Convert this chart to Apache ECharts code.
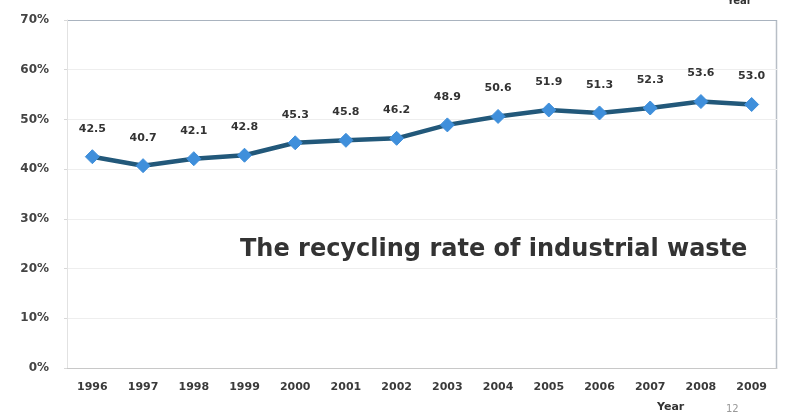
<!DOCTYPE html>
<html>
<head>
<meta charset="utf-8">
<script src="https://cdn.jsdelivr.net/npm/echarts@6/dist/echarts.min.js"></script>
<style>
  html, body { margin: 0; padding: 0; background: #fff; }
  #chart { width: 785px; height: 417px; }
</style>
</head>
<body>
<div id="chart"></div>
<script>
// Recycling rate of industrial waste, 1996–2009 (percent)
const years = ['1996', '1997', '1998', '1999', '2000', '2001', '2002', '2003', '2004', '2005', '2006', '2007', '2008', '2009'];
const recyclingRate = [42.5, 40.7, 42.1, 42.8, 45.3, 45.8, 46.2, 48.9, 50.6, 51.9, 51.3, 52.3, 53.6, 53.0];
const yTicks = [0, 10, 20, 30, 40, 50, 60, 70];
const chartTitle = 'The recycling rate of industrial waste';
const axisName = 'Year';
const pageNumber = '12';

const labelFont = '"DejaVu Sans", sans-serif';

const chart = echarts.init(document.getElementById('chart'));

chart.setOption({
  animation: false,
  backgroundColor: '#ffffff',
  grid: { left: 67, right: 8, top: 20, bottom: 49 },
  xAxis: {
    type: 'category',
    data: years,
    boundaryGap: true,
    axisLine: { show: true, lineStyle: { color: '#c8c8c8', width: 1 } },
    axisTick: { show: false },
    axisLabel: {
      color: '#3a3a3a',
      fontFamily: labelFont,
      fontWeight: 'bold',
      fontSize: 11,
      margin: 14
    },
    splitLine: { show: false }
  },
  yAxis: {
    type: 'value',
    min: yTicks[0],
    max: yTicks[yTicks.length - 1],
    interval: 10,
    axisLine: { show: true, lineStyle: { color: '#e2e2e2', width: 1 } },
    axisTick: { show: true, length: 3, lineStyle: { color: '#d8d8d8' } },
    axisLabel: {
      color: '#444',
      fontFamily: labelFont,
      fontWeight: 'bold',
      fontSize: 12,
      margin: 18,
      formatter: v => v + '%'
    },
    splitLine: {
      show: true,
      lineStyle: {
        color: ['#eeeeee', '#eeeeee', '#eeeeee', '#eeeeee', '#eeeeee', '#eeeeee', '#eeeeee', '#a9b3bf'],
        width: 1
      }
    }
  },
  series: [{
    type: 'line',
    data: recyclingRate,
    symbol: 'diamond',
    symbolSize: 14,
    lineStyle: { color: '#22587a', width: 4.5 },
    itemStyle: { color: '#3f8fdb', borderColor: '#3f8fdb', borderWidth: 1 },
    label: {
      show: true,
      position: 'top',
      distance: 15,
      color: '#333',
      fontFamily: labelFont,
      fontWeight: 'bold',
      fontSize: 11,
      formatter: p => p.value.toFixed(1)
    },
    z: 3
  }],
  graphic: [
    {
      type: 'text',
      left: 240,
      top: 238,
      style: {
        text: chartTitle,
        fill: '#333',
        font: 'bold 24px "DejaVu Sans", sans-serif'
      }
    },
    {
      type: 'text',
      left: 657,
      top: 402,
      style: {
        text: axisName,
        fill: '#333',
        font: 'bold 11px "DejaVu Sans", sans-serif'
      }
    },
    {
      type: 'text',
      left: 726,
      top: 404,
      style: {
        text: pageNumber,
        fill: '#999',
        font: '10px "DejaVu Sans", sans-serif'
      }
    },
    {
      type: 'text',
      left: 727,
      top: -4,
      style: {
        text: axisName,
        fill: '#333',
        font: 'bold 10px "DejaVu Sans", sans-serif'
      }
    },
    {
      type: 'line',
      shape: { x1: 776.5, y1: 20, x2: 776.5, y2: 368 },
      style: { stroke: '#b8bec6', lineWidth: 1.5 }
    }
  ]
});
</script>
</body>
</html>
